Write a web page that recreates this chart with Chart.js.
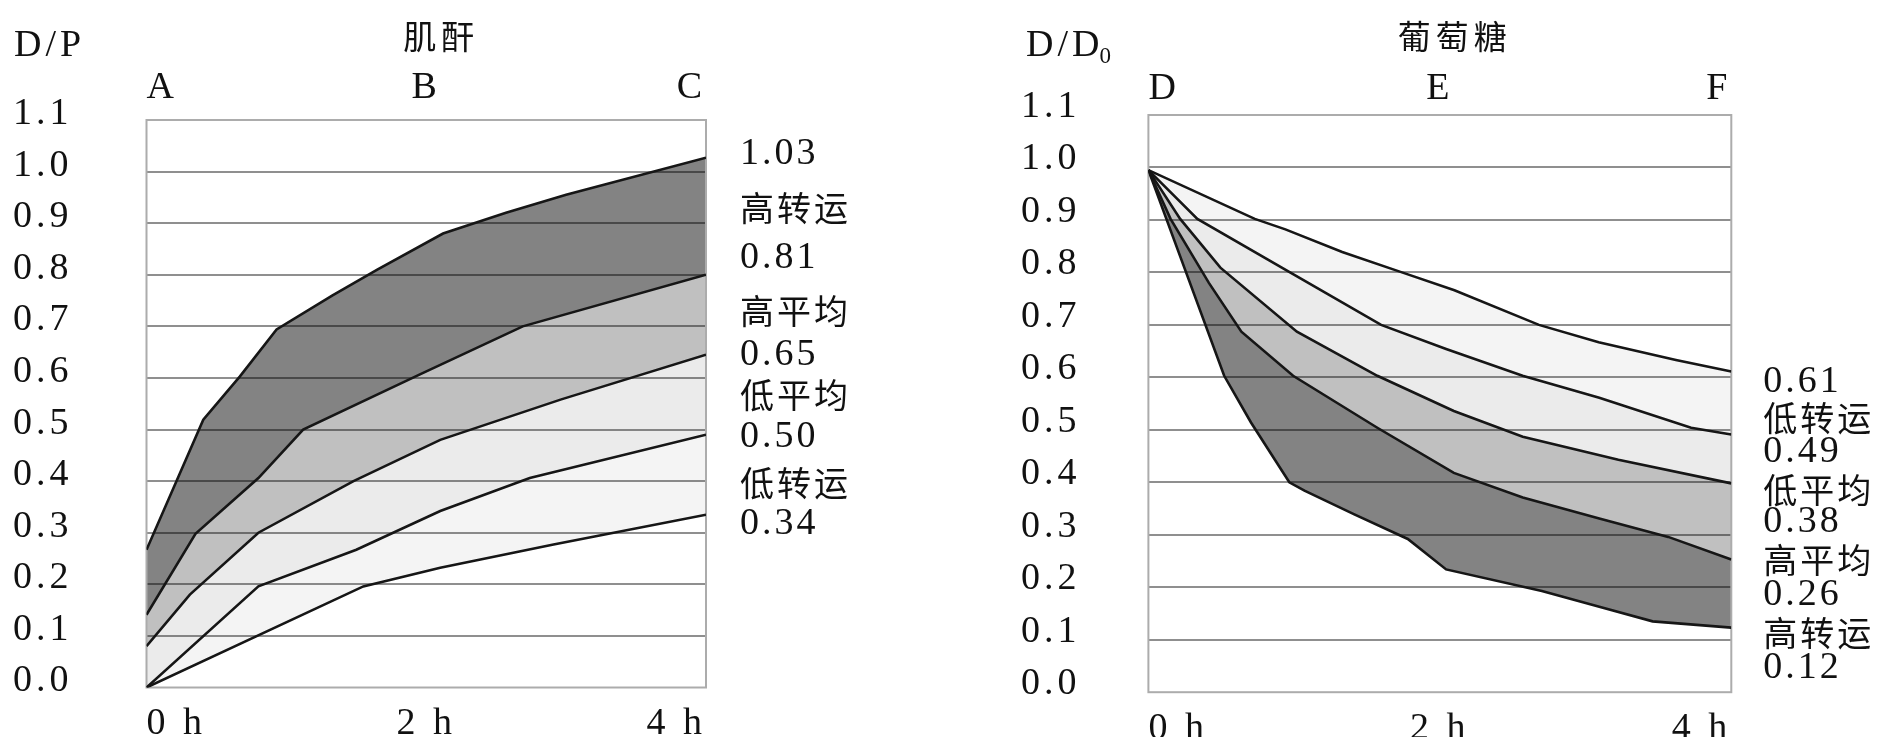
<!DOCTYPE html>
<html><head><meta charset="utf-8">
<script src="https://cdn.jsdelivr.net/npm/chart.js@4.4.0/dist/chart.umd.min.js"></script>
<style>
html,body{margin:0;padding:0;background:#fff;width:1883px;height:737px;overflow:hidden}
#wl{position:absolute;left:0;top:0;width:900px;height:737px}
#wr{position:absolute;left:900px;top:0;width:983px;height:737px}
canvas{display:block}
</style></head><body>
<div id="wl"><canvas id="cl"></canvas></div>
<div id="wr"><canvas id="cr"></canvas></div>
<script>
// ---------- data ----------
const hourTicks = [0, 2, 4];
const hourLabels = ['0 h', '2 h', '4 h'];
const yTicks = [0, 0.1, 0.2, 0.3, 0.4, 0.5, 0.6, 0.7, 0.8, 0.9, 1.0, 1.1];

// 肌酐 (creatinine), [hour, D/P]
const creatTitle = '肌酐';
const creatUnit = 'D/P';
const creatTopLabels = ['A', 'B', 'C'];
const creat103 = [[0,0.267],[0.406,0.519],[0.668,0.603],[0.93,0.694],[1.33,0.76],[1.65,0.81],[2.12,0.88],[2.57,0.92],[3.0,0.955],[4,1.027]];
const creat081 = [[0,0.141],[0.35,0.298],[0.80,0.406],[1.12,0.50],[1.955,0.607],[2.69,0.70],[4,0.80]];
const creat065 = [[0,0.08],[0.31,0.18],[0.80,0.30],[1.48,0.40],[2.1,0.48],[2.96,0.558],[4,0.645]];
const creat050 = [[0,0],[0.80,0.196],[1.5,0.267],[2.1,0.342],[2.74,0.406],[4,0.49]];
const creat034 = [[0,0],[1.55,0.196],[2.1,0.232],[2.91,0.277],[4,0.335]];
const creatSideLabels = ['1.03','高转运','0.81','高平均','0.65','低平均','0.50','低转运','0.34'];

// 葡萄糖 (glucose), [hour, D/D0]
const glucTitle = '葡萄糖';
const glucUnit = 'D/D';
const glucUnitSub = '0';
const glucTopLabels = ['D', 'E', 'F'];
const gluc061 = [[0,0.995],[0.73,0.902],[0.94,0.882],[1.33,0.839],[1.73,0.801],[2.10,0.766],[2.68,0.700],[3.09,0.667],[3.62,0.633],[4,0.611]];
const gluc049 = [[0,0.995],[0.336,0.902],[0.966,0.801],[1.597,0.700],[2.043,0.654],[2.568,0.603],[3.094,0.561],[3.724,0.504],[4,0.491]];
const gluc038 = [[0,0.995],[0.218,0.902],[0.494,0.809],[1.019,0.687],[1.571,0.603],[2.096,0.536],[2.569,0.487],[3.225,0.443],[4,0.398]];
const gluc026 = [[0,0.995],[0.152,0.902],[0.415,0.780],[0.638,0.687],[0.993,0.603],[1.571,0.504],[2.096,0.418],[2.569,0.371],[3.094,0.331],[3.567,0.296],[4,0.253]];
const gluc012 = [[0,0.995],[0.52,0.603],[0.704,0.514],[0.967,0.40],[1.071,0.384],[1.413,0.339],[1.78,0.292],[2.043,0.234],[2.70,0.193],[3.094,0.163],[3.46,0.135],[4,0.123]];
const glucSideLabels = ['0.61','低转运','0.49','低平均','0.38','高平均','0.26','高转运','0.12'];

// ---------- styling ----------
const SERIF = '"Liberation Serif", "Noto Sans CJK SC", serif';
const CJK = '"Noto Sans CJK SC", sans-serif';
const TXT = '#111111';
const DARK = '#838383', MID = '#c0c0c0', LIGHT = '#ebebeb', LIGHTER = '#f4f4f4';

function toPts(arr){ return arr.map(p => ({x: p[0], y: p[1]})); }
function ds(arr, fill, color){
  return {data: toPts(arr), fill: fill, backgroundColor: color || 'rgba(0,0,0,0)',
    borderColor: '#161616', borderWidth: 2.6, pointRadius: 0, tension: 0,
    xAxisID: 'x', yAxisID: 'y'};
}

function makeChart(id, g){
  const canvas = document.getElementById(id);
  canvas.width = g.w; canvas.height = 737;
  const fTick = {family: SERIF, size: 38};
  const deco = {
    id: 'deco',
    beforeLayout(chart){ chart.ctx.letterSpacing = '4px'; },
    beforeDraw(chart){ chart.ctx.letterSpacing = '4px'; },
    beforeDatasetsDraw(chart){
      const {ctx, chartArea: a} = chart;
      ctx.save();
      ctx.strokeStyle = '#acacac'; ctx.lineWidth = 2;
      ctx.strokeRect(a.left, a.top, a.right - a.left, a.bottom - a.top);
      ctx.restore();
    },
    afterDraw(chart){
      const {ctx, chartArea: a} = chart;
      const ys = chart.scales.y;
      ctx.save();
      ctx.fillStyle = TXT;
      // title
      ctx.letterSpacing = '5px';
      ctx.font = '33px ' + CJK;
      ctx.textAlign = 'center'; ctx.textBaseline = 'middle';
      ctx.fillText(g.title, (a.left + a.right) / 2 + 15, 36);
      // unit
      ctx.letterSpacing = '4px';
      ctx.textAlign = 'left'; ctx.textBaseline = 'alphabetic';
      ctx.font = '38px ' + SERIF;
      ctx.fillText(g.unit, g.unitX, 56);
      if (g.unitSub){
        const w = ctx.measureText(g.unit).width;
        ctx.font = '23px ' + SERIF;
        ctx.fillText(g.unitSub, g.unitX + w - 4, 63);
      }
      // side labels
      ctx.textBaseline = 'middle';
      g.side.forEach((t, i) => {
        const y = ys.getPixelForValue(g.sideAt[i]);
        if (/^[0-9.]+$/.test(t)) { ctx.font = '38px ' + SERIF; ctx.letterSpacing = '3px'; }
        else { ctx.font = '34px ' + CJK; ctx.letterSpacing = '3px'; }
        ctx.fillText(t, a.right + g.sideGap, y);
      });
      ctx.restore();
    }
  };
  return new Chart(canvas, {
    type: 'line',
    data: {datasets: g.datasets},
    options: {
      responsive: false, animation: false, devicePixelRatio: 1,
      layout: {padding: {left: g.padL, right: g.padR, top: 0, bottom: 0}},
      plugins: {legend: {display: false}, tooltip: {enabled: false}, filler: {drawTime: 'beforeDraw'}},
      scales: {
        x: {type: 'linear', position: 'bottom', min: 0, max: 4,
          afterBuildTicks: s => { s.ticks = hourTicks.map(v => ({value: v})); },
          ticks: {callback: (v, i) => hourLabels[i], align: 'inner', maxRotation: 0, autoSkip: false,
            padding: 6, color: TXT, font: fTick},
          grid: {display: false}, border: {display: false},
          afterFit: s => { s.height = g.bottomH; }},
        xt: {type: 'linear', position: 'top', min: 0, max: 4,
          afterBuildTicks: s => { s.ticks = hourTicks.map(v => ({value: v})); },
          ticks: {callback: (v, i) => g.top[i], align: 'inner', maxRotation: 0, autoSkip: false,
            padding: g.topPad, color: TXT, font: fTick},
          grid: {display: false}, border: {display: false},
          afterFit: s => { s.height = g.topH; }},
        y: {type: 'linear', position: 'left', min: 0, max: 1.1,
          afterBuildTicks: s => { s.ticks = yTicks.map(v => ({value: v})); },
          ticks: {callback: v => v.toFixed(1), crossAlign: 'far', labelOffset: g.yOff, color: TXT, font: fTick},
          grid: {color: c => (c.tick && c.tick.value > 0.001 && c.tick.value < 1.05) ? 'rgba(0,0,0,0.44)' : 'rgba(0,0,0,0)',
            lineWidth: 2, drawTicks: false},
          border: {display: false},
          afterFit: s => { s.width = g.yW; }}
      }
    },
    plugins: [deco]
  });
}

makeChart('cl', {
  w: 900, padL: 13, padR: 194, yW: 133.5, topH: 120, topPad: 1, bottomH: 49.5, yOff: -6,
  title: creatTitle, unit: creatUnit, unitX: 14, top: creatTopLabels,
  side: creatSideLabels, sideAt: [1.035, 0.93, 0.832, 0.73, 0.644, 0.567, 0.485, 0.397, 0.317], sideGap: 34,
  datasets: [ds(creat103, '+1', DARK), ds(creat081, '+1', MID), ds(creat065, '+1', LIGHT), ds(creat050, '+1', LIGHTER), ds(creat034, false)]
});

makeChart('cr', {
  w: 983, padL: 121, padR: 151.7, yW: 127.4, topH: 115, topPad: -5, bottomH: 44.8, yOff: -8,
  title: glucTitle, unit: glucUnit, unitSub: glucUnitSub, unitX: 126, top: glucTopLabels,
  side: glucSideLabels, sideAt: [0.591, 0.523, 0.458, 0.385, 0.324, 0.252, 0.185, 0.112, 0.046], sideGap: 32,
  datasets: [ds(gluc061, '+1', LIGHTER), ds(gluc049, '+1', LIGHT), ds(gluc038, '+1', MID), ds(gluc026, '+1', DARK), ds(gluc012, false)]
});
</script>
</body></html>
